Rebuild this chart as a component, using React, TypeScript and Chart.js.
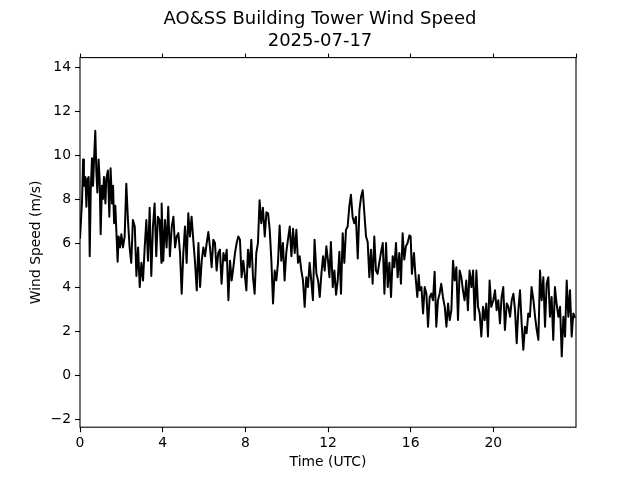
import React, { useEffect, useRef } from "react";
import { Chart, registerables } from "chart.js";

Chart.register(...registerables);

const titleLines = ["AO&SS Building Tower Wind Speed", "2025-07-17"];
const xLabel = "Time (UTC)";
const yLabel = "Wind Speed (m/s)";
const xTickValues = [0, 4, 8, 12, 16, 20];
const yTickValues = [-2, 0, 2, 4, 6, 8, 10, 12, 14];

// time of day in hours (UTC)
const hours = [
  0.0, 0.1, 0.15, 0.19, 0.26, 0.31, 0.36, 0.42, 0.47, 0.52, 0.58, 0.63, 0.68, 0.74, 0.79, 0.84, 0.9, 0.95,
  1.0, 1.06, 1.11, 1.16, 1.23, 1.27, 1.35, 1.42, 1.48, 1.55, 1.6, 1.65, 1.71, 1.77, 1.82, 1.87, 1.94,
  2.0, 2.08, 2.16, 2.24, 2.32, 2.4, 2.48, 2.56, 2.65, 2.73, 2.81, 2.89, 2.97,
  3.05, 3.13, 3.21, 3.29, 3.37, 3.45, 3.53, 3.61, 3.69, 3.77, 3.85, 3.94,
  3.95, 4.03, 4.11, 4.19, 4.27, 4.35, 4.44, 4.52, 4.6, 4.68, 4.76, 4.84, 4.92,
  5.0, 5.08, 5.16, 5.24, 5.32, 5.4, 5.48, 5.56, 5.65, 5.73, 5.81, 5.89, 5.97,
  6.05, 6.13, 6.21, 6.29, 6.37, 6.45, 6.53, 6.61, 6.69, 6.77, 6.85, 6.94,
  7.02, 7.1, 7.18, 7.26, 7.34, 7.42, 7.5, 7.58, 7.66, 7.74, 7.82, 7.9,
  7.97, 8.05, 8.13, 8.21, 8.29, 8.37, 8.45, 8.53, 8.61, 8.69, 8.77, 8.85, 8.94,
  9.02, 9.1, 9.18, 9.26, 9.34, 9.42, 9.5, 9.58, 9.66, 9.74, 9.82, 9.9, 9.98,
  10.06, 10.15, 10.23, 10.31, 10.39, 10.47, 10.55, 10.63, 10.71, 10.79, 10.87, 10.95,
  11.03, 11.11, 11.19, 11.27, 11.35, 11.44, 11.52, 11.6, 11.68, 11.76, 11.84, 11.92, 12.0,
  12.07, 12.14, 12.23, 12.31, 12.39, 12.47, 12.55, 12.63, 12.71, 12.79, 12.87, 12.95,
  13.03, 13.11, 13.19, 13.27, 13.35, 13.44, 13.52, 13.6, 13.68, 13.76, 13.84, 13.92,
  14.0, 14.08, 14.16, 14.24, 14.32, 14.4, 14.48, 14.56, 14.65, 14.73, 14.81, 14.89, 14.97,
  15.05, 15.13, 15.21, 15.29, 15.37, 15.45, 15.53, 15.61, 15.69, 15.77, 15.85, 15.94,
  16.0, 16.06, 16.16, 16.23, 16.32, 16.39, 16.44, 16.52, 16.6, 16.68, 16.76, 16.84, 16.92,
  17.0, 17.08, 17.16, 17.24, 17.32, 17.4, 17.48, 17.56, 17.65, 17.73, 17.81, 17.89, 17.97,
  18.05, 18.13, 18.21, 18.29, 18.37, 18.45, 18.53, 18.61, 18.69, 18.77, 18.85, 18.94,
  19.02, 19.1, 19.18, 19.26, 19.34, 19.42, 19.5, 19.58, 19.66, 19.74, 19.82, 19.9,
  20.0, 20.08, 20.16, 20.24, 20.32, 20.4, 20.48, 20.56, 20.65, 20.73, 20.81, 20.89, 20.97,
  21.05, 21.13, 21.21, 21.29, 21.37, 21.45, 21.53, 21.61, 21.69, 21.77, 21.85, 21.94,
  22.02, 22.1, 22.18, 22.26, 22.34, 22.42, 22.5, 22.58, 22.66, 22.74, 22.82, 22.9, 22.98,
  23.06, 23.15, 23.23, 23.31, 23.39, 23.47, 23.55, 23.63, 23.71, 23.79, 23.87, 23.95,
];

// wind speed in m/s
const speed = [
  6.2, 7.95, 9.8, 8.6, 9.0, 7.65, 8.9, 9.0, 5.4, 8.4, 9.85, 8.6, 9.8, 11.1, 9.3, 8.3, 9.8, 8.9,
  6.4, 8.6, 8.0, 9.0, 7.8, 8.9, 9.3, 7.2, 9.4, 7.8, 8.6, 6.9, 7.7, 6.3, 5.15, 6.3, 5.8,
  6.4, 5.8, 6.3, 8.7, 7.05, 5.8, 5.1, 7.05, 6.75, 4.5, 5.8, 4.0, 5.1,
  4.3, 5.8, 7.05, 5.2, 7.6, 4.5, 6.75, 7.8, 5.4, 7.2, 7.05, 5.1,
  7.8, 5.2, 7.05, 5.8, 7.65, 5.4, 6.75, 7.2, 5.8, 6.3, 6.45, 5.55, 3.7,
  5.55, 6.75, 5.1, 7.35, 6.3, 7.2, 6.15, 5.2, 3.85, 6.0, 4.0, 5.2, 5.8,
  5.4, 6.0, 6.5, 5.8, 4.9, 6.15, 6.0, 4.75, 5.55, 5.7, 4.15, 5.55,
  5.2, 5.7, 3.4, 5.2, 4.3, 4.9, 5.55, 6.0, 6.3, 6.15, 4.45, 5.2,
  4.6, 3.85, 5.7, 4.9, 6.15, 4.45, 3.7, 5.55, 6.0, 7.95, 6.9, 7.6, 6.3,
  7.4, 7.35, 6.6, 5.2, 3.25, 4.75, 4.3, 5.1, 6.8, 5.2, 6.0, 4.3, 5.55,
  6.15, 6.75, 5.4, 6.65, 5.55, 6.6, 5.1, 5.4, 4.75, 4.3, 3.1, 4.45,
  4.0, 5.1, 4.3, 3.4, 6.15, 4.6, 4.3, 3.55, 4.6, 5.4, 4.75, 5.85, 5.2,
  4.45, 6.05, 4.0, 4.75, 3.65, 4.3, 5.6, 3.7, 6.45, 5.1, 6.6, 6.75,
  7.65, 8.2, 7.2, 6.9, 7.2, 5.3, 7.5, 8.1, 8.4, 7.35, 6.3, 6.05,
  4.45, 5.7, 4.15, 6.3, 4.75, 4.6, 5.1, 5.55, 6.0, 3.7, 6.0, 4.0, 5.1,
  3.55, 5.4, 4.9, 6.0, 4.45, 5.55, 4.15, 6.45, 5.25, 5.85, 6.0, 6.35,
  6.3, 4.6, 5.55, 4.55, 3.55, 4.55, 3.85, 4.0, 2.8, 4.0, 3.7, 2.2, 3.55,
  3.7, 3.4, 4.7, 2.2, 3.4, 3.7, 4.15, 3.55, 3.1, 2.2, 3.25, 2.5, 2.95,
  5.2, 4.3, 4.9, 2.5, 4.75, 4.45, 3.85, 3.4, 4.3, 2.95, 4.75, 4.0,
  4.75, 2.5, 4.75, 3.1, 2.8, 1.75, 3.1, 2.5, 3.25, 1.75, 4.3, 3.1,
  3.4, 3.85, 2.95, 3.4, 2.35, 3.55, 4.0, 2.05, 3.25, 3.1, 2.65, 3.4, 3.7,
  2.95, 1.45, 2.95, 3.85, 2.35, 1.15, 2.2, 1.9, 2.8, 2.65, 4.0, 3.4,
  2.65, 2.05, 1.6, 4.75, 3.4, 4.45, 2.2, 4.15, 4.45, 2.65, 3.55, 1.6, 4.0,
  3.25, 2.65, 3.1, 0.85, 2.65, 1.75, 4.3, 2.65, 3.85, 1.75, 2.8, 2.6,
];

const FONT = "'DejaVu Sans', 'Liberation Sans', sans-serif";

const framePlugin = {
  id: "framePlugin",
  afterDraw(chart: any) {
    const { ctx, chartArea } = chart;
    ctx.save();
    ctx.strokeStyle = "#000";
    ctx.lineWidth = 1.1;
    ctx.strokeRect(chartArea.left, chartArea.top, chartArea.right - chartArea.left, chartArea.bottom - chartArea.top);
    ctx.fillStyle = "#000";
    ctx.textAlign = "center";
    ctx.textBaseline = "alphabetic";
    ctx.font = `18px ${FONT}`;
    ctx.fillText(titleLines[0], chart.width / 2, 24);
    ctx.fillText(titleLines[1], chart.width / 2, 45.5);
    ctx.font = `13.9px ${FONT}`;
    const cx = (chartArea.left + chartArea.right) / 2;
    ctx.fillText(xLabel, cx, 466);
    const cy = (chartArea.top + chartArea.bottom) / 2;
    ctx.translate(36, cy);
    ctx.rotate(-Math.PI / 2);
    ctx.textBaseline = "middle";
    ctx.fillText(yLabel, 0, 0);
    ctx.restore();
  },
};

export default function App() {
  const canvasRef = useRef<HTMLCanvasElement | null>(null);

  useEffect(() => {
    document.body.style.margin = "0";
    const canvas = canvasRef.current;
    if (!canvas) return;
    Chart.defaults.font.family = FONT;
    Chart.defaults.color = "#000";

    const chart = new Chart(canvas, {
      type: "line",
      data: {
        datasets: [
          {
            data: hours.map((h, i) => ({ x: h, y: speed[i] })),
            borderColor: "#000",
            borderWidth: 2,
            pointRadius: 0,
            tension: 0,
            borderJoinStyle: "round",
            fill: false,
          },
        ],
      },
      options: {
        animation: false,
        responsive: false,
        devicePixelRatio: 1,
        layout: { padding: { left: 0, right: 64, top: 0, bottom: 0 } },
        plugins: {
          legend: { display: false },
          title: { display: false },
          tooltip: { enabled: false },
        },
        scales: {
          x: {
            type: "linear",
            position: "bottom",
            min: 0,
            max: 24,
            afterBuildTicks: (scale: any) => {
              scale.ticks = xTickValues.map((v) => ({ value: v }));
            },
            ticks: {
              font: { size: 13.9 },
              color: "#000",
              padding: 3,
              maxRotation: 0,
              callback: (v: any) => String(v),
            },
            grid: {
              drawOnChartArea: false,
              drawTicks: true,
              tickLength: 5,
              tickWidth: 1.1,
              tickColor: "#000",
            },
            border: { display: false },
            afterFit: (scale: any) => {
              scale.height = 52.8;
            },
          },
          xTop: {
            type: "linear",
            position: "top",
            min: 0,
            max: 24,
            afterBuildTicks: (scale: any) => {
              scale.ticks = [...xTickValues, 24].map((v) => ({ value: v }));
            },
            ticks: { display: false },
            grid: {
              drawOnChartArea: false,
              drawTicks: true,
              tickLength: 4,
              tickWidth: 1.1,
              tickColor: "#000",
            },
            border: { display: false },
            afterFit: (scale: any) => {
              scale.height = 57.6;
            },
          },
          y: {
            type: "linear",
            position: "left",
            min: -2.37,
            max: 14.43,
            afterBuildTicks: (scale: any) => {
              scale.ticks = yTickValues.map((v) => ({ value: v }));
            },
            ticks: {
              font: { size: 13.9 },
              color: "#000",
              padding: 4,
              callback: (v: any) => (v < 0 ? "\u2212" + Math.abs(v) : String(v)),
            },
            grid: {
              drawOnChartArea: false,
              drawTicks: true,
              tickLength: 5,
              tickWidth: 1.1,
              tickColor: "#000",
            },
            border: { display: false },
            afterFit: (scale: any) => {
              scale.width = 80;
            },
          },
        },
      },
      plugins: [framePlugin],
    });

    return () => {
      chart.destroy();
    };
  }, []);

  return (
    <div style={{ width: 640, height: 480 }}>
      <canvas ref={canvasRef} width={640} height={480} style={{ display: "block" }} />
    </div>
  );
}
